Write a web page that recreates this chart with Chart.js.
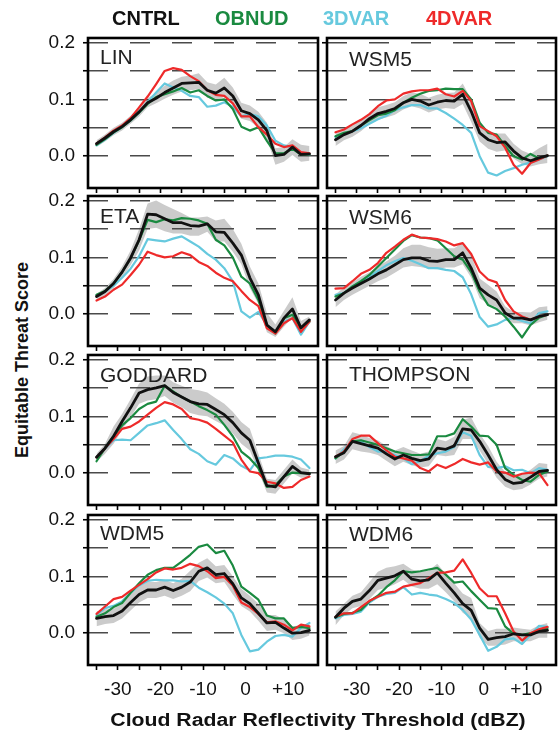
<!DOCTYPE html>
<html><head><meta charset="utf-8">
<script src="https://cdn.jsdelivr.net/npm/chart.js@4.4.1/dist/chart.umd.min.js"></script>
<style>
html,body{margin:0;padding:0;background:#fff;}
body{width:558px;height:742px;position:relative;overflow:hidden;font-family:"Liberation Sans",Arial,Helvetica,sans-serif;}
canvas{position:absolute;}
.t{position:absolute;white-space:nowrap;line-height:1;}
</style></head><body>
<script>
// ---- DATA ----
const dbz = [-35,-33,-31,-29,-27,-25,-23,-21,-19,-17,-15,-13,-11,-9,-7,-5,-3,-1,1,3,5,7,9,11,13,15];
const xTicks = [-35,-30,-25,-20,-15,-10,-5,0,5,10];
const xTickLabels = ['','-30','','-20','','-10','','0','','+10'];
const yTicks = [0,0.05,0.1,0.15,0.2];
const yTickLabels = ['0.0','','0.1','','0.2'];
const seriesNames = ['CNTRL','OBNUD','3DVAR','4DVAR'];
const panelNames = ['LIN','WSM5','ETA','WSM6','GODDARD','THOMPSON','WDM5','WDM6'];

const LIN_CNTRL = [0.022,0.032,0.043,0.052,0.064,0.078,0.094,0.102,0.112,0.120,0.128,0.129,0.130,0.116,0.111,0.120,0.106,0.080,0.075,0.064,0.045,0.001,0.003,0.016,0.003,0.004];
const LIN_OBNUD = [0.020,0.030,0.042,0.051,0.063,0.077,0.092,0.104,0.109,0.114,0.120,0.112,0.116,0.106,0.098,0.100,0.083,0.052,0.045,0.051,0.027,0.005,0.005,0.013,0.003,0.003];
const LIN_3DVAR = [0.019,0.029,0.041,0.051,0.063,0.077,0.095,0.112,0.128,0.121,0.115,0.106,0.104,0.087,0.089,0.095,0.087,0.070,0.074,0.070,0.054,0.027,0.019,0.016,0.005,0.003];
const LIN_4DVAR = [0.022,0.033,0.045,0.054,0.067,0.086,0.105,0.127,0.150,0.155,0.152,0.141,0.132,0.116,0.108,0.106,0.093,0.070,0.070,0.051,0.038,0.022,0.016,0.019,0.007,0.005];
const LIN_HI = [0.028,0.038,0.050,0.059,0.071,0.086,0.102,0.112,0.124,0.133,0.140,0.142,0.146,0.130,0.126,0.138,0.121,0.094,0.089,0.078,0.059,0.014,0.016,0.030,0.020,0.018];
const LIN_LO = [0.016,0.026,0.037,0.045,0.057,0.070,0.086,0.093,0.101,0.108,0.114,0.116,0.118,0.103,0.098,0.104,0.090,0.066,0.062,0.050,0.031,-0.015,-0.010,0.002,-0.010,-0.008];

const WSM5_CNTRL = [0.029,0.038,0.044,0.054,0.066,0.075,0.079,0.084,0.094,0.100,0.097,0.090,0.095,0.098,0.097,0.109,0.079,0.041,0.029,0.024,0.025,0.009,-0.003,-0.008,-0.003,0.001];
const WSM5_OBNUD = [0.035,0.041,0.044,0.054,0.063,0.072,0.075,0.081,0.094,0.103,0.110,0.115,0.116,0.119,0.118,0.118,0.100,0.059,0.041,0.038,0.018,0.000,-0.006,0.004,-0.004,0.001];
const WSM5_3DVAR = [0.034,0.039,0.044,0.049,0.057,0.065,0.071,0.081,0.086,0.090,0.090,0.084,0.084,0.076,0.066,0.055,0.041,0.000,-0.029,-0.034,-0.026,-0.021,-0.015,-0.011,-0.006,0.000];
const WSM5_4DVAR = [0.042,0.047,0.056,0.064,0.074,0.088,0.098,0.100,0.110,0.114,0.116,0.116,0.119,0.109,0.105,0.115,0.097,0.053,0.044,0.035,0.015,-0.015,-0.031,-0.012,-0.006,0.001];
const WSM5_HI = [0.040,0.048,0.054,0.064,0.076,0.086,0.090,0.095,0.106,0.112,0.110,0.103,0.108,0.111,0.112,0.128,0.100,0.058,0.045,0.040,0.040,0.022,0.010,0.004,0.014,0.022];
const WSM5_LO = [0.018,0.028,0.034,0.044,0.056,0.064,0.068,0.073,0.082,0.088,0.084,0.077,0.082,0.085,0.083,0.092,0.060,0.026,0.013,0.008,0.010,-0.004,-0.014,-0.018,-0.014,-0.012];

const ETA_CNTRL = [0.031,0.040,0.054,0.074,0.099,0.131,0.176,0.175,0.168,0.161,0.161,0.156,0.155,0.159,0.145,0.144,0.125,0.104,0.064,0.034,-0.019,-0.031,-0.007,0.009,-0.024,-0.010];
const ETA_OBNUD = [0.034,0.041,0.054,0.074,0.098,0.130,0.166,0.162,0.167,0.165,0.169,0.168,0.165,0.159,0.131,0.121,0.100,0.066,0.054,0.025,-0.019,-0.034,-0.007,-0.001,-0.025,-0.013];
const ETA_3DVAR = [0.033,0.040,0.050,0.064,0.080,0.102,0.132,0.130,0.128,0.133,0.137,0.128,0.119,0.106,0.096,0.081,0.058,0.005,-0.006,0.004,-0.019,-0.031,-0.013,-0.007,-0.036,-0.013];
const ETA_4DVAR = [0.024,0.031,0.043,0.052,0.069,0.087,0.110,0.104,0.100,0.102,0.109,0.104,0.092,0.085,0.073,0.064,0.058,0.041,0.025,0.014,-0.025,-0.034,-0.016,-0.007,-0.031,-0.013];
const ETA_HI = [0.036,0.046,0.062,0.084,0.112,0.150,0.195,0.200,0.192,0.185,0.178,0.170,0.170,0.172,0.165,0.168,0.150,0.124,0.084,0.054,0.002,-0.018,0.006,0.030,-0.012,-0.004];
const ETA_LO = [0.025,0.033,0.046,0.064,0.086,0.112,0.150,0.152,0.146,0.142,0.142,0.138,0.138,0.145,0.128,0.128,0.110,0.088,0.046,0.018,-0.032,-0.040,-0.022,-0.006,-0.036,-0.016];

const WSM6_CNTRL = [0.025,0.037,0.046,0.054,0.062,0.071,0.078,0.087,0.096,0.099,0.099,0.094,0.093,0.096,0.096,0.108,0.081,0.046,0.034,0.025,0.002,-0.007,-0.007,-0.010,-0.004,-0.001];
const WSM6_OBNUD = [0.031,0.037,0.049,0.058,0.069,0.084,0.099,0.114,0.129,0.139,0.135,0.134,0.130,0.116,0.102,0.096,0.074,0.040,0.016,0.009,-0.004,-0.022,-0.041,-0.019,-0.006,-0.001];
const WSM6_3DVAR = [0.034,0.037,0.049,0.058,0.066,0.076,0.086,0.093,0.099,0.094,0.088,0.081,0.081,0.078,0.076,0.065,0.035,-0.005,-0.022,-0.018,-0.010,-0.007,-0.012,-0.016,0.002,0.005];
const WSM6_4DVAR = [0.045,0.046,0.058,0.071,0.078,0.090,0.108,0.119,0.131,0.140,0.135,0.134,0.132,0.128,0.121,0.125,0.106,0.075,0.061,0.056,0.025,0.005,-0.004,-0.010,-0.004,-0.001];
const WSM6_HI = [0.035,0.047,0.056,0.066,0.074,0.084,0.093,0.103,0.116,0.122,0.122,0.118,0.115,0.116,0.116,0.126,0.104,0.063,0.052,0.040,0.014,0.004,0.004,0.003,0.012,0.014];
const WSM6_LO = [0.012,0.025,0.034,0.042,0.050,0.058,0.064,0.073,0.082,0.085,0.083,0.080,0.079,0.082,0.082,0.088,0.064,0.028,0.018,0.012,-0.008,-0.016,-0.016,-0.020,-0.014,-0.010];

const GOD_CNTRL = [0.028,0.044,0.065,0.091,0.115,0.141,0.147,0.150,0.154,0.142,0.134,0.126,0.122,0.121,0.112,0.103,0.089,0.071,0.058,0.018,-0.022,-0.024,-0.006,0.012,0.001,-0.001];
const GOD_OBNUD = [0.021,0.044,0.065,0.084,0.097,0.113,0.122,0.126,0.154,0.144,0.134,0.126,0.118,0.111,0.103,0.085,0.065,0.038,0.026,0.009,-0.024,-0.021,-0.006,0.001,0.000,0.000];
const GOD_3DVAR = [0.029,0.043,0.058,0.059,0.058,0.071,0.084,0.088,0.093,0.076,0.060,0.042,0.034,0.021,0.015,0.032,0.026,0.013,0.005,0.026,0.028,0.031,0.031,0.029,0.024,0.009];
const GOD_4DVAR = [0.028,0.044,0.060,0.078,0.082,0.091,0.103,0.115,0.125,0.121,0.113,0.097,0.094,0.089,0.078,0.066,0.054,0.024,0.003,0.000,-0.015,-0.018,-0.026,-0.024,-0.012,-0.006];
const GOD_HI = [0.034,0.052,0.082,0.104,0.130,0.158,0.170,0.172,0.172,0.160,0.154,0.148,0.146,0.142,0.132,0.122,0.108,0.090,0.078,0.034,-0.010,-0.012,0.006,0.024,0.010,0.006];
const GOD_LO = [0.020,0.034,0.052,0.076,0.098,0.122,0.128,0.130,0.136,0.124,0.116,0.106,0.102,0.100,0.092,0.084,0.070,0.052,0.040,0.004,-0.034,-0.036,-0.018,0.000,-0.008,-0.007];

const THO_CNTRL = [0.029,0.036,0.056,0.052,0.048,0.044,0.034,0.025,0.032,0.026,0.022,0.025,0.044,0.042,0.048,0.078,0.076,0.056,0.032,0.006,-0.011,-0.018,-0.016,-0.007,0.003,0.005];
const THO_OBNUD = [0.026,0.038,0.056,0.058,0.054,0.050,0.044,0.038,0.035,0.032,0.032,0.033,0.065,0.065,0.070,0.095,0.082,0.066,0.065,0.050,0.009,-0.003,-0.012,-0.015,-0.003,0.003];
const THO_3DVAR = [0.026,0.042,0.056,0.056,0.046,0.038,0.038,0.032,0.026,0.016,0.021,0.031,0.035,0.038,0.046,0.072,0.066,0.032,0.011,0.009,0.012,0.005,0.006,0.000,0.009,0.006];
const THO_4DVAR = [0.029,0.038,0.060,0.066,0.066,0.053,0.040,0.029,0.026,0.022,0.009,0.003,0.015,0.009,0.016,0.025,0.019,0.015,0.019,0.003,0.001,-0.006,-0.001,0.001,0.000,-0.021];
const THO_HI = [0.040,0.048,0.072,0.068,0.062,0.058,0.048,0.040,0.046,0.040,0.034,0.038,0.060,0.056,0.064,0.094,0.098,0.070,0.048,0.020,0.002,-0.004,-0.002,0.006,0.018,0.016];
const THO_LO = [0.016,0.024,0.042,0.038,0.036,0.032,0.022,0.012,0.020,0.014,0.010,0.012,0.032,0.030,0.032,0.060,0.060,0.040,0.016,-0.008,-0.024,-0.030,-0.028,-0.020,-0.010,-0.006];

const WDM5_CNTRL = [0.026,0.029,0.031,0.039,0.054,0.068,0.076,0.076,0.081,0.075,0.081,0.090,0.109,0.115,0.103,0.105,0.087,0.062,0.052,0.035,0.018,0.019,0.009,0.000,0.001,0.005];
const WDM5_OBNUD = [0.029,0.035,0.046,0.053,0.071,0.088,0.103,0.111,0.115,0.115,0.126,0.138,0.152,0.156,0.141,0.145,0.119,0.082,0.071,0.059,0.031,0.026,0.026,0.009,0.011,0.009];
const WDM5_3DVAR = [0.032,0.044,0.048,0.056,0.071,0.084,0.092,0.094,0.093,0.093,0.091,0.092,0.080,0.072,0.063,0.052,0.035,-0.003,-0.032,-0.029,-0.015,-0.005,-0.003,-0.006,0.009,0.018];
const WDM5_4DVAR = [0.034,0.047,0.060,0.064,0.075,0.085,0.095,0.107,0.114,0.112,0.115,0.122,0.118,0.109,0.097,0.099,0.084,0.054,0.046,0.034,0.019,0.021,0.015,0.005,0.015,0.012];
const WDM5_HI = [0.038,0.042,0.043,0.052,0.068,0.082,0.090,0.090,0.094,0.088,0.096,0.110,0.124,0.132,0.118,0.120,0.100,0.078,0.066,0.052,0.032,0.032,0.024,0.012,0.014,0.016];
const WDM5_LO = [0.012,0.016,0.018,0.026,0.040,0.054,0.062,0.062,0.066,0.060,0.066,0.074,0.092,0.098,0.088,0.090,0.068,0.048,0.038,0.022,0.004,0.006,0.000,-0.012,-0.010,-0.004];

const WDM6_CNTRL = [0.028,0.044,0.056,0.060,0.075,0.093,0.097,0.101,0.109,0.095,0.092,0.094,0.106,0.088,0.071,0.052,0.040,0.009,-0.011,-0.008,-0.006,-0.001,-0.003,-0.003,0.003,0.005];
const WDM6_OBNUD = [0.028,0.034,0.036,0.041,0.056,0.066,0.081,0.093,0.109,0.107,0.109,0.112,0.115,0.103,0.089,0.091,0.074,0.059,0.044,0.043,0.012,-0.001,-0.003,0.000,0.003,0.009];
const WDM6_3DVAR = [0.026,0.032,0.034,0.038,0.054,0.064,0.069,0.071,0.081,0.068,0.071,0.068,0.066,0.060,0.053,0.041,0.024,-0.003,-0.031,-0.024,-0.011,-0.009,-0.019,-0.003,0.013,0.011];
const WDM6_4DVAR = [0.029,0.035,0.035,0.046,0.057,0.064,0.071,0.073,0.082,0.085,0.088,0.097,0.106,0.107,0.110,0.130,0.106,0.079,0.065,0.065,0.035,0.003,-0.013,0.000,0.007,0.011];
const WDM6_HI = [0.038,0.052,0.066,0.072,0.090,0.108,0.115,0.118,0.122,0.112,0.108,0.110,0.122,0.104,0.088,0.070,0.062,0.018,0.004,0.008,0.008,0.010,0.008,0.006,0.014,0.018];
const WDM6_LO = [0.014,0.032,0.044,0.048,0.060,0.076,0.080,0.086,0.094,0.082,0.078,0.078,0.086,0.072,0.056,0.036,0.026,-0.008,-0.022,-0.022,-0.020,-0.014,-0.014,-0.014,-0.008,-0.008];

const panelData = {
  LIN:[LIN_CNTRL,LIN_OBNUD,LIN_3DVAR,LIN_4DVAR,LIN_HI,LIN_LO],
  WSM5:[WSM5_CNTRL,WSM5_OBNUD,WSM5_3DVAR,WSM5_4DVAR,WSM5_HI,WSM5_LO],
  ETA:[ETA_CNTRL,ETA_OBNUD,ETA_3DVAR,ETA_4DVAR,ETA_HI,ETA_LO],
  WSM6:[WSM6_CNTRL,WSM6_OBNUD,WSM6_3DVAR,WSM6_4DVAR,WSM6_HI,WSM6_LO],
  GODDARD:[GOD_CNTRL,GOD_OBNUD,GOD_3DVAR,GOD_4DVAR,GOD_HI,GOD_LO],
  THOMPSON:[THO_CNTRL,THO_OBNUD,THO_3DVAR,THO_4DVAR,THO_HI,THO_LO],
  WDM5:[WDM5_CNTRL,WDM5_OBNUD,WDM5_3DVAR,WDM5_4DVAR,WDM5_HI,WDM5_LO],
  WDM6:[WDM6_CNTRL,WDM6_OBNUD,WDM6_3DVAR,WDM6_4DVAR,WDM6_HI,WDM6_LO]
};

// ---- STYLE / LAYOUT ----
const COLORS = {CNTRL:'#111111', OBNUD:'#1a8a40', '3DVAR':'#66c9de', '4DVAR':'#ee2a2a'};
const BAND = '#cbcbcb';
const FONT = '"Liberation Sans", Arial, Helvetica, sans-serif';
const COLS = [{L:88, W:230, yw:48, showY:true, titleX:100}, {L:327, W:229, yw:5, showY:false, titleX:349}];
const ROWS = [38,196,355,515];
const FH = 150, PADT = 24, PADR = 3;
const titleY = {LIN:55.5, WSM5:58, ETA:215, WSM6:215.5, GODDARD:373.5, THOMPSON:372.5, WDM5:531.5, WDM6:533};

function addText(txt, x, y, o){
  const d = document.createElement('div');
  d.className = 't';
  d.textContent = txt;
  d.style.left = x+'px'; d.style.top = y+'px';
  d.style.fontSize = o.size+'px';
  d.style.fontWeight = o.weight||'normal';
  d.style.color = o.color||'#111';
  const tx = o.center ? '-50%' : '0';
  d.style.transformOrigin = o.center ? '50% 50%' : '0 50%';
  d.style.transform = `translate(${tx},-50%)` + (o.rotate?` rotate(${o.rotate}deg)`:'') + (o.sx?` scaleX(${o.sx})`:'');
  document.body.appendChild(d);
}

const framePlugin = {
  id:'frame',
  afterDatasetsDraw(chart){
    const {ctx, chartArea:a} = chart;
    ctx.save(); ctx.lineWidth = 2.6; ctx.strokeStyle = '#000';
    ctx.strokeRect(a.left, a.top, a.right-a.left, a.bottom-a.top);
    ctx.restore();
  }
};

const pts = arr => arr.map((v,i)=>({x:dbz[i], y:v}));

panelNames.forEach((name, idx) => {
  const r = Math.floor(idx/2), c = idx%2;
  const col = COLS[c];
  const bottom = r === 3;
  const xh = bottom ? 44 : 24;
  const cv = document.createElement('canvas');
  const w = col.yw + col.W + PADR, h = PADT + FH + xh;
  cv.width = w; cv.height = h;
  cv.style.left = (col.L - col.yw)+'px';
  cv.style.top = (ROWS[r] - PADT)+'px';
  cv.style.width = w+'px'; cv.style.height = h+'px';
  document.body.appendChild(cv);
  const [cn, ob, v3, v4, hi, lo] = panelData[name];
  new Chart(cv, {
    type:'line',
    data:{datasets:[
      {label:'CNTRL', data:pts(cn), borderColor:COLORS.CNTRL, borderWidth:2.8, order:0},
      {label:'4DVAR', data:pts(v4), borderColor:COLORS['4DVAR'], borderWidth:2.2, order:1},
      {label:'OBNUD', data:pts(ob), borderColor:COLORS.OBNUD, borderWidth:2.2, order:2},
      {label:'3DVAR', data:pts(v3), borderColor:COLORS['3DVAR'], borderWidth:2.2, order:3},
      {label:'hi', data:pts(hi), borderColor:'transparent', borderWidth:0, backgroundColor:BAND, fill:'+1', order:4},
      {label:'lo', data:pts(lo), borderColor:'transparent', borderWidth:0, fill:false, order:5}
    ]},
    options:{
      responsive:false, animation:false, events:[],
      layout:{padding:{top:PADT, right:PADR, left:0, bottom:0}},
      elements:{point:{radius:0}, line:{tension:0, borderJoinStyle:'round', borderCapStyle:'round'}},
      plugins:{legend:{display:false}, tooltip:{enabled:false}, filler:{propagate:false, drawTime:'beforeDraw'}},
      scales:{
        x:{type:'linear', min:-37, max:17,
          afterBuildTicks:s=>{s.ticks = xTicks.map(v=>({value:v}));},
          afterFit:s=>{s.height = xh;},
          ticks:{display:bottom, autoSkip:false, maxRotation:0, padding:8, color:'#111',
                 font:{family:FONT, size:19}, callback:(v,i)=>xTickLabels[i]},
          grid:{drawOnChartArea:false, drawTicks:true, tickLength:5, tickWidth:1.6, tickColor:'#000'},
          border:{display:false}},
        y:{type:'linear', min:-0.056, max:0.208,
          afterBuildTicks:s=>{s.ticks = yTicks.map(v=>({value:v}));},
          afterFit:s=>{s.width = col.yw;},
          ticks:{display:col.showY, padding:8, color:'#111', font:{family:FONT, size:19},
                 callback:(v,i)=>yTickLabels[i]},
          grid:{drawOnChartArea:true, color:'#4a4a4a', lineWidth:1.5, drawTicks:true, tickLength:5,
                tickWidth:1.6, tickColor:'#000', tickBorderDash:[]},
          border:{display:false, dash:[20,22]}}
      }
    },
    plugins:[framePlugin]
  });
  addText(name, col.titleX, titleY[name], {size:21, color:'#222'});
});

// legend
const legendX = [112, 215, 323, 426];
seriesNames.forEach((s,i)=> addText(s, legendX[i], 18, {size:20, weight:'bold', color:COLORS[s]}));
// axis titles
addText('Equitable Threat Score', 22, 360, {size:18, weight:'bold', color:'#111', center:true, rotate:-90});
addText('Cloud Radar Reflectivity Threshold (dBZ)', 318, 720, {size:18, weight:'bold', color:'#111', center:true, sx:1.18});
</script>
</body></html>
